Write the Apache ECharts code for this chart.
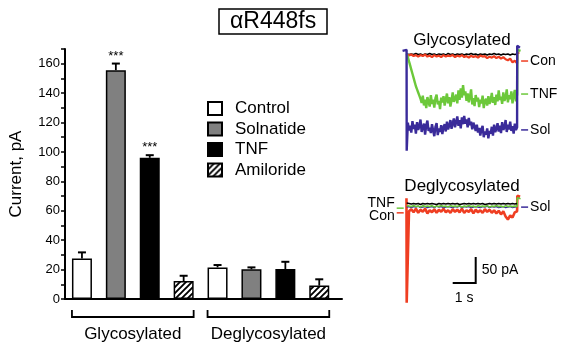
<!DOCTYPE html>
<html lang="en">
<head>
<meta charset="UTF-8">
<title>aR448fs currents</title>
<style>
  html, body { margin: 0; padding: 0; background: #fff; }
  #main { width: 561px; height: 346px; }
</style>
</head>
<body>
<div id="main"></div>
<script src="https://cdn.jsdelivr.net/npm/echarts@6.0.0/dist/echarts.min.js"></script>
<script>
// bar chart data (pA)
var categories = ['Control', 'Solnatide', 'TNF', 'Amiloride']
var groups = ['Glycosylated', 'Deglycosylated']
var glycoMean = [27.6, 155.6, 96, 12.2]
var glycoErr = [4.1, 4.5, 1.8, 3.6]
var glycoSig = ['', '***', '***', '']
var deglycoMean = [21.5, 20.2, 20.4, 9.1]
var deglycoErr = [1.6, 1.3, 4.9, 4.3]
var deglycoSig = ['', '', '', '']
var yTicks = [0, 20, 40, 60, 80, 100, 120, 140, 160]

// current traces (pA); coarse traces every 0.1 s, noisy ones every 0.05 s
var sweepTime = [0, 0.1, 0.2, 0.3, 0.4, 0.5, 0.6, 0.7, 0.8, 0.9,
  1.0, 1.1, 1.2, 1.3, 1.4, 1.5, 1.6, 1.7, 1.8, 1.9,
  2.0, 2.1, 2.2, 2.3, 2.4, 2.5, 2.6, 2.7, 2.8, 2.9,
  3.0, 3.1, 3.2, 3.3, 3.4, 3.5, 3.6, 3.7, 3.8, 3.9,
  4.0, 4.1, 4.2, 4.3, 4.4, 4.5, 4.6, 4.7, 4.8]
var fineTime = [0, 0.05, 0.1, 0.15, 0.2, 0.25, 0.3, 0.35, 0.4, 0.45,
  0.5, 0.55, 0.6, 0.65, 0.7, 0.75, 0.8, 0.85, 0.9, 0.95,
  1.0, 1.05, 1.1, 1.15, 1.2, 1.25, 1.3, 1.35, 1.4, 1.45,
  1.5, 1.55, 1.6, 1.65, 1.7, 1.75, 1.8, 1.85, 1.9, 1.95,
  2.0, 2.05, 2.1, 2.15, 2.2, 2.25, 2.3, 2.35, 2.4, 2.45,
  2.5, 2.55, 2.6, 2.65, 2.7, 2.75, 2.8, 2.85, 2.9, 2.95,
  3.0, 3.05, 3.1, 3.15, 3.2, 3.25, 3.3, 3.35, 3.4, 3.45,
  3.5, 3.55, 3.6, 3.65, 3.7, 3.75, 3.8, 3.85, 3.9, 3.95,
  4.0, 4.05, 4.1, 4.15, 4.2, 4.25, 4.3, 4.35, 4.4, 4.45,
  4.5, 4.55, 4.6, 4.65, 4.7, 4.75, 4.8]

var glycoBase = [0, -1, 0, -1, 1, -1, 0, -2, 0, -1,
  1, -1, 0, -2, 0, -1, 0, -2, 1, -1,
  0, -2, 0, -1, 0, -2, 0, -1, 1, -1,
  0, -2, 0, -1, 0, -2, 0, -1, 1, -1,
  0, -2, 0, -1, 0, -2, 0, -1, 0]
var glycoCon = [-1, -3, -1, -4, -2, -5, -2, -4, -1, -5,
  -3, -6, -2, -5, -3, -6, -2, -5, -3, -4,
  -2, -6, -3, -5, -2, -6, -4, -7, -3, -6,
  -4, -7, -3, -5, -4, -8, -5, -7, -4, -8,
  -5, -9, -6, -10, -12, -9, -16, -13, -18]
var glycoTnf = [0, -6, -14, -22, -30, -38, -46, -54, -62, -68,
  -74, -80, -86, -94, -80, -99, -88, -104, -83, -92,
  -101, -79, -96, -88, -103, -85, -78, -97, -90, -106,
  -84, -93, -81, -99, -87, -76, -95, -83, -101, -89,
  -74, -92, -86, -78, -95, -70, -88, -66, -84, -60,
  -79, -72, -90, -76, -93, -82, -68, -97, -85, -100,
  -79, -91, -84, -102, -88, -95, -80, -104, -90, -86,
  -99, -81, -96, -89, -75, -94, -83, -98, -78, -91,
  -70, -88, -82, -96, -74, -90, -84, -68, -93, -79,
  -87, -72, -95, -80, -69, -91, -78]
var glycoSol = [-186, -132, -147, -138, -151, -129, -144, -136, -153, -131,
  -146, -139, -126, -150, -141, -134, -155, -137, -128, -148,
  -142, -152, -135, -147, -158, -140, -133, -156, -143, -150,
  -137, -154, -141, -135, -149, -130, -145, -138, -127, -144,
  -133, -124, -141, -131, -120, -138, -127, -143, -122, -135,
  -119, -134, -126, -141, -123, -137, -130, -145, -132, -139,
  -148, -136, -151, -142, -157, -145, -138, -160, -149, -155,
  -143, -162, -148, -153, -140, -157, -136, -150, -144, -133,
  -149, -138, -152, -131, -146, -141, -127, -150, -136, -145,
  -130, -148, -139, -153, -134, -146, -141]
var glycoConPost = [[4.81, 2], [4.9, 2]]
var glycoTnfPost = [[4.81, 8], [4.95, 6]]
var glycoSolPre = [[-0.18, 6], [-0.005, 8]]
var glycoSolPost = [[4.805, 16], [4.92, 12]]

var deglycoBase = [2, 1, 0, 1, 0, 1, -1, 1, 0, 1,
  0, 1, 0, -1, 1, 0, 1, 0, 1, 0,
  1, 0, 1, -1, 0, 1, 0, 1, 0, 1,
  0, 1, 0, 1, -1, 0, 1, 0, 1, 0,
  1, 0, 1, 0, 1, 0, 1, 0, 1]
var deglycoTnf = [-3, -4, -5, -3, -5, -4, -6, -3, -5, -4,
  -5, -3, -6, -4, -5, -3, -5, -4, -6, -3,
  -5, -4, -5, -3, -6, -4, -5, -3, -5, -4,
  -6, -3, -5, -4, -5, -3, -6, -4, -5, -3,
  -5, -4, -6, -3, -5, -4, -5, -4, -5]
var deglycoSol = [-6, -5, -7, -5, -6, -4, -7, -6, -5, -7,
  -6, -5, -7, -4, -6, -5, -7, -6, -5, -6,
  -7, -5, -6, -4, -7, -5, -6, -5, -7, -6,
  -5, -6, -7, -5, -6, -4, -7, -5, -6, -5,
  -7, -6, -5, -7, -6, -5, -7, -6, -5]
var deglycoCon = [-190, -14, -10, -16, -9, -17, -11, -15, -9, -18,
  -12, -16, -10, -17, -11, -15, -9, -16, -12, -17,
  -10, -15, -11, -16, -9, -17, -12, -15, -10, -18,
  -11, -16, -12, -17, -10, -15, -11, -17, -12, -18,
  -13, -20, -14, -24, -30, -22, -26, -16, -14]
var deglycoTnfPost = [[4.81, 12], [4.95, 10]]
var deglycoConPre = [[-0.01, 11]]
var deglycoConPost = [[4.81, 16], [4.93, 14]]

// trace labels: [text, dash level pA, text level pA, side]
var glycoLabels = [['Con', -13.5, -13.5, 'right'], ['TNF', -77, -77, 'right'], ['Sol', -146, -146, 'right']]
var deglycoLabels = [['TNF', -8, 2, 'left'], ['Con', -17, -23, 'left'], ['Sol', -6, -6, 'right']]

// scale bar: corner (3 s, -152 pA), 1 s, 50 pA
var scaleBar = [[3, -152, 1, 50]]

var font = "'Liberation Sans', Arial, sans-serif"
var traceColor = { Con: '#ef3e22', TNF: '#6cc83a', Sol: '#3a2b9a', base: '#000' }

// hatch pattern for amiloride
var hatch = document.createElement('canvas')
hatch.width = 6
hatch.height = 6
var hc = hatch.getContext('2d')
hc.fillStyle = '#fff'
hc.fillRect(0, 0, 6, 6)
hc.strokeStyle = '#000'
hc.lineWidth = 1.9
hc.beginPath()
hc.moveTo(-1, 7); hc.lineTo(7, -1)
hc.moveTo(-4, 4); hc.lineTo(4, -4)
hc.moveTo(2, 10); hc.lineTo(10, 2)
hc.stroke()

var fills = ['#ffffff', '#808080', '#000000', { image: hatch, repeat: 'repeat' }]
var barW = 20

// one slot per bar on the category axis
var slots = []
groups.forEach(function (g) {
  categories.forEach(function (c) { slots.push(g + ' ' + c) })
})
function xPos(g, i) { return g * categories.length + i }

var barSeries = categories.map(function (name, i) {
  var d = slots.map(function () { return '-' })
  d[xPos(0, i)] = glycoMean[i]
  d[xPos(1, i)] = deglycoMean[i]
  return {
    name: name,
    type: 'bar',
    xAxisIndex: 0,
    yAxisIndex: 0,
    barWidth: barW,
    barGap: '-100%',
    data: d,
    itemStyle: { color: fills[i], borderColor: '#000', borderWidth: 1.5 }
  }
})

var errData = []
categories.forEach(function (c, i) {
  errData.push([xPos(0, i), glycoMean[i], glycoErr[i], glycoSig[i]])
  errData.push([xPos(1, i), deglycoMean[i], deglycoErr[i], deglycoSig[i]])
})

var errSeries = {
  type: 'custom',
  xAxisIndex: 0,
  yAxisIndex: 0,
  z: 5,
  clip: false,
  data: errData,
  renderItem: function (params, api) {
    var x = api.value(0), v = api.value(1), e = api.value(2)
    var top = api.coord([x, v])
    var cap = api.coord([x, v + e])
    var ch = [
      { type: 'line', shape: { x1: top[0], y1: top[1], x2: cap[0], y2: cap[1] }, style: { stroke: '#000', lineWidth: 1.8 } },
      { type: 'line', shape: { x1: cap[0] - 4, y1: cap[1], x2: cap[0] + 4, y2: cap[1] }, style: { stroke: '#000', lineWidth: 2 } }
    ]
    var sig = errData[params.dataIndex][3]
    if (sig) {
      ch.push({ type: 'text', style: { text: sig, x: cap[0], y: cap[1] - 1, align: 'center', verticalAlign: 'bottom', font: '13px ' + font, fill: '#000' } })
    }
    return { type: 'group', children: ch }
  }
}

var bracketSeries = {
  type: 'custom',
  xAxisIndex: 0,
  yAxisIndex: 0,
  clip: false,
  data: [[xPos(0, 0), xPos(0, categories.length - 1)], [xPos(1, 0), xPos(1, categories.length - 1)]],
  renderItem: function (params, api) {
    var a = api.coord([api.value(0), 0])
    var b = api.coord([api.value(1), 0])
    var x0 = a[0] - barW / 2, x1 = b[0] + barW / 2
    var y = a[1] + 18, yt = a[1] + 11
    return {
      type: 'group',
      children: [
        { type: 'polyline', shape: { points: [[x0, yt], [x0, y], [x1, y], [x1, yt]] }, style: { stroke: '#000', lineWidth: 1.8, fill: null } },
        { type: 'text', style: { text: groups[params.dataIndex], x: (x0 + x1) / 2, y: a[1] + 35, align: 'center', verticalAlign: 'middle', font: '17px ' + font, fill: '#000' } }
      ]
    }
  }
}

function traceData(times, vals, pre, post) {
  var d = (pre || []).slice()
  times.forEach(function (t, k) { d.push([t, vals[k]]) })
  return d.concat(post || [])
}

function trace(panel, times, vals, color, pre, post, z, w) {
  return {
    type: 'line',
    xAxisIndex: panel,
    yAxisIndex: panel,
    data: traceData(times, vals, pre, post),
    showSymbol: false,
    symbol: 'none',
    silent: true,
    z: z,
    lineStyle: { color: color, width: w }
  }
}

function labelSeries(panel, labels) {
  return {
    type: 'custom',
    xAxisIndex: panel,
    yAxisIndex: panel,
    clip: false,
    z: 10,
    data: labels.map(function (l) { return [l[3] === 'right' ? sweepTime[sweepTime.length - 1] : sweepTime[0], l[1], l[2]] }),
    renderItem: function (params, api) {
      var l = labels[params.dataIndex]
      var p = api.coord([api.value(0), api.value(1)])
      var q = api.coord([api.value(0), api.value(2)])
      var c = traceColor[l[0]]
      var right = l[3] === 'right'
      var d0 = right ? p[0] + 4 : p[0] - 10
      var d1 = right ? p[0] + 11 : p[0] - 3
      return {
        type: 'group',
        children: [
          { type: 'line', shape: { x1: d0, y1: p[1], x2: d1, y2: p[1] }, style: { stroke: c, lineWidth: 1.5 } },
          { type: 'text', style: { text: l[0], x: right ? p[0] + 13 : p[0] - 12, y: q[1], align: right ? 'left' : 'right', verticalAlign: 'middle', font: '14px ' + font, fill: '#000' } }
        ]
      }
    }
  }
}

var scaleSeries = {
  type: 'custom',
  xAxisIndex: 2,
  yAxisIndex: 2,
  clip: false,
  data: scaleBar,
  renderItem: function (params, api) {
    var t = api.value(0), i = api.value(1), dt = api.value(2), di = api.value(3)
    var c = api.coord([t, i])
    var up = api.coord([t, i + di])
    var lf = api.coord([t - dt, i])
    return {
      type: 'group',
      children: [
        { type: 'polyline', shape: { points: [lf, c, up] }, style: { stroke: '#000', lineWidth: 2, fill: null } },
        { type: 'text', style: { text: di + ' pA', x: c[0] + 6, y: (c[1] + up[1]) / 2, align: 'left', verticalAlign: 'middle', font: '14px ' + font, fill: '#000' } },
        { type: 'text', style: { text: dt + ' s', x: (c[0] + lf[0]) / 2, y: c[1] + 15, align: 'center', verticalAlign: 'middle', font: '14px ' + font, fill: '#000' } }
      ]
    }
  }
}

function hiddenAxis(grid, min, max) {
  return { type: 'value', gridIndex: grid, min: min, max: max, show: false }
}

var myChart = echarts.init(document.getElementById('main'))

var options = {
  animation: false,
  textStyle: { fontFamily: font },
  title: {
    text: 'αR448fs',
    left: 219,
    top: 9,
    borderColor: '#000',
    borderWidth: 1.5,
    padding: [1, 11, 1, 11],
    textStyle: { fontSize: 23, fontWeight: 'normal', color: '#000', fontFamily: font }
  },
  legend: {
    data: categories,
    orient: 'vertical',
    left: 207,
    top: 100,
    padding: 0,
    icon: 'rect',
    itemWidth: 14,
    itemHeight: 13,
    itemGap: 3.5,
    textStyle: { fontSize: 17, color: '#000', fontFamily: font, padding: [0, 0, 0, 8] }
  },
  graphic: [
    { type: 'text', x: 462, y: 40, style: { text: 'Glycosylated', align: 'center', verticalAlign: 'middle', font: '17px ' + font, fill: '#000' } },
    { type: 'text', x: 462, y: 186, style: { text: 'Deglycosylated', align: 'center', verticalAlign: 'middle', font: '17px ' + font, fill: '#000' } }
  ],
  grid: [
    // bars
    { left: 65, top: 49, width: 271.2, height: 250 },
    // glycosylated traces
    { left: 402.1, top: 43.6, width: 119.6, height: 114.4 },
    // deglycosylated traces
    { left: 402.1, top: 193.6, width: 119.6, height: 114.4 },
    // axis frame
    { left: 51, top: 49, width: 291, height: 250 }
  ],
  xAxis: [
    { type: 'category', gridIndex: 0, data: slots, show: false },
    hiddenAxis(1, -0.2, 5.0),
    hiddenAxis(2, -0.2, 5.0),
    {
      type: 'value', gridIndex: 3, min: 0, max: 1,
      axisLine: { show: true, onZero: false, lineStyle: { color: '#000', width: 2 } },
      axisTick: { show: false }, axisLabel: { show: false }, splitLine: { show: false }
    }
  ],
  yAxis: [
    hiddenAxis(0, 0, 170),
    hiddenAxis(1, -200, 20),
    hiddenAxis(2, -200, 20),
    {
      type: 'value', gridIndex: 3, min: 0, max: 170, interval: 10,
      name: 'Current, pA', nameLocation: 'middle', nameGap: 40, nameRotate: 90,
      nameTextStyle: { fontSize: 17, color: '#000', fontFamily: font },
      axisLine: { show: true, lineStyle: { color: '#000', width: 2 } },
      axisTick: { show: true, length: 4, lineStyle: { color: '#000', width: 1.5 } },
      axisLabel: {
        fontSize: 13, color: '#000', margin: 5, fontFamily: font,
        formatter: function (v) { return yTicks.indexOf(v) >= 0 ? String(v) : '' }
      },
      splitLine: { show: false }
    }
  ],
  series: barSeries.concat([
    errSeries,
    bracketSeries,
    trace(1, sweepTime, glycoBase, traceColor.base, null, null, 2, 1.5),
    trace(1, sweepTime, glycoCon, traceColor.Con, null, glycoConPost, 3, 2.2),
    trace(1, fineTime, glycoTnf, traceColor.TNF, null, glycoTnfPost, 4, 2.4),
    trace(1, fineTime, glycoSol, traceColor.Sol, glycoSolPre, glycoSolPost, 5, 2.4),
    trace(2, sweepTime, deglycoCon, traceColor.Con, deglycoConPre, deglycoConPost, 2, 2.6),
    trace(2, sweepTime, deglycoSol, traceColor.Sol, null, null, 3, 1.5),
    trace(2, sweepTime, deglycoTnf, traceColor.TNF, null, deglycoTnfPost, 4, 1.6),
    trace(2, sweepTime, deglycoBase, traceColor.base, null, null, 5, 1.5),
    labelSeries(1, glycoLabels),
    labelSeries(2, deglycoLabels),
    scaleSeries
  ])
}
myChart.setOption(options)
</script>
</body>
</html>
